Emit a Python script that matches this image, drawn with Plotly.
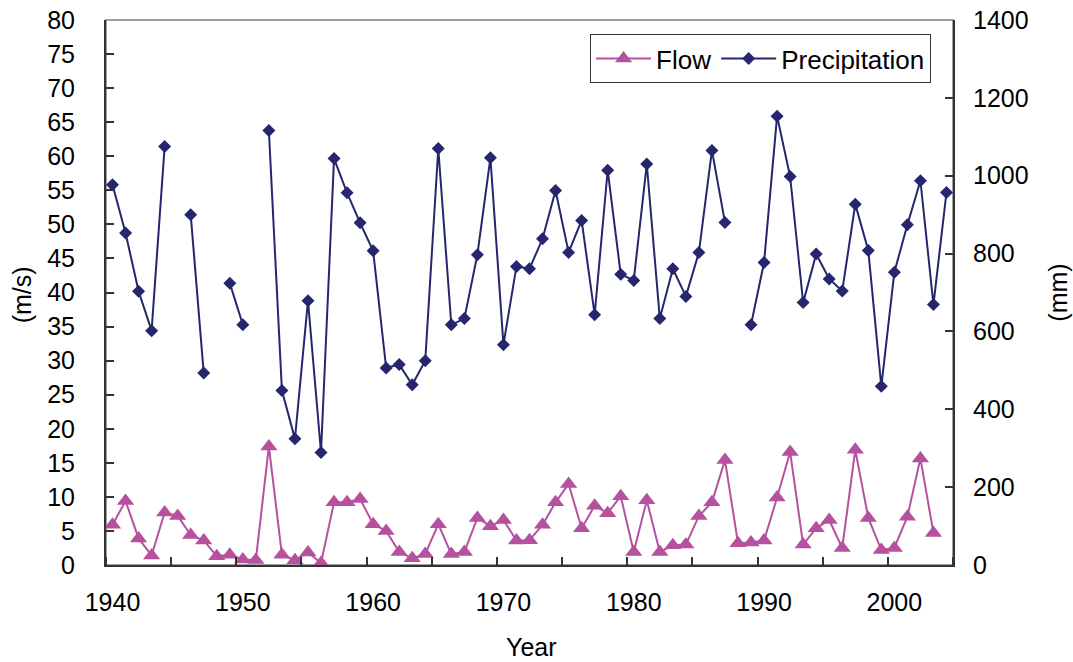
import plotly.graph_objects as go

years = list(range(1940, 2005))

flow = [5.9, 9.4, 3.9, 1.4, 7.7, 7.2, 4.4, 3.6, 1.3, 1.5,
        0.8, 0.75, 17.4, 1.5, 0.7, 1.85, 0.3, 9.2, 9.2, 9.7,
        6.0, 5.0, 1.9, 1.0, 1.6, 6.0, 1.6, 1.9, 6.9, 5.7,
        6.6, 3.6, 3.65, 5.9, 9.2, 11.9, 5.4, 8.7, 7.6, 10.1,
        1.9, 9.5, 1.9, 2.9, 3.0, 7.2, 9.2, 15.4, 3.2, 3.3,
        3.6, 9.9, 16.6, 3.0, 5.4, 6.6, 2.5, 16.9, 6.9, 2.2,
        2.5, 7.1, 15.65, 4.7, None]

precipitation = [977, 853, 703, 602, 1075, None, 900, 493, None, 724,
                 617, None, 1116, 448, 324, 679, 289, 1044, 956, 879,
                 807, 506, 515, 463, 525, 1070, 617, 633, 797, 1046,
                 566, 767, 761, 838, 962, 803, 885, 643, 1014, 747,
                 731, 1030, 633, 761, 690, 803, 1065, 880, None, 617,
                 777, 1153, 998, 674, 799, 735, 704, 927, 808, 459,
                 752, 874, 987, 669, 957]

x_labels = [1940, 1950, 1960, 1970, 1980, 1990, 2000]

FONT = "Arial, Liberation Sans, sans-serif"
FLOW_C = "#B6519F"
PREC_C = "#26266E"
AX_C = "#333333"
FS = 25

fig = go.Figure()
fig.add_trace(go.Scatter(
    x=years, y=flow, name="Flow", mode="lines+markers",
    line=dict(color=FLOW_C, width=2),
    marker=dict(symbol="triangle-up", size=15, color=FLOW_C),
    connectgaps=False, yaxis="y"))
fig.add_trace(go.Scatter(
    x=years, y=precipitation, name="Precipitation", mode="lines+markers",
    line=dict(color=PREC_C, width=2),
    marker=dict(symbol="diamond", size=10, color=PREC_C),
    connectgaps=False, yaxis="y2"))

fig.update_layout(
    width=1073, height=662,
    margin=dict(l=106, r=120, t=20, b=97, autoexpand=False),
    paper_bgcolor="white", plot_bgcolor="white",
    font=dict(family=FONT, size=FS, color="black"),
    showlegend=True,
    legend=dict(x=0.5715, y=0.974, xanchor="left", yanchor="top",
                orientation="h", bgcolor="white",
                bordercolor=AX_C, borderwidth=1,
                font=dict(family=FONT, size=26, color="black"),
                itemwidth=55),
    xaxis=dict(range=[1939.5, 2004.5], tickmode="array", tickvals=x_labels,
               ticktext=[str(v) for v in x_labels], ticks="", showgrid=False,
               zeroline=False, showline=True, linecolor=AX_C, linewidth=2,
               ticklabelstandoff=14, ticklabeloverflow="allow", automargin=False,
               minor=dict(ticks="inside", tick0=1939.5, dtick=5, ticklen=8,
                          tickcolor=AX_C, tickwidth=1.5, showgrid=False)),
    yaxis=dict(range=[0, 80], dtick=5, tick0=0, ticks="inside", ticklen=8,
               tickcolor=AX_C, tickwidth=1.5, showgrid=False, zeroline=False,
               showline=True, linecolor=AX_C, linewidth=2, automargin=False,
               ticklabelstandoff=24, ticklabeloverflow="allow"),
    yaxis2=dict(range=[0, 1400], dtick=200, tick0=0, ticks="inside", ticklen=8,
                tickcolor=AX_C, tickwidth=1.5, showgrid=False, zeroline=False,
                showline=True, linecolor=AX_C, linewidth=2, automargin=False,
                overlaying="y", side="right", ticklabelstandoff=13,
                ticklabeloverflow="allow"),
    shapes=[dict(type="rect", xref="paper", yref="paper", x0=0, x1=1, y0=0, y1=1,
                 line=dict(color="#808080", width=1.5), layer="below")],
    annotations=[
        dict(text="(m/s)", xref="paper", yref="paper", x=-0.099, y=0.495,
             textangle=-90, showarrow=False, xanchor="center", yanchor="middle",
             font=dict(family=FONT, size=FS)),
        dict(text="(mm)", xref="paper", yref="paper", x=1.123, y=0.5,
             textangle=-90, showarrow=False, xanchor="center", yanchor="middle",
             font=dict(family=FONT, size=FS)),
        dict(text="Year", xref="paper", yref="paper", x=0.502, y=-0.150,
             showarrow=False, xanchor="center", yanchor="middle",
             font=dict(family=FONT, size=FS)),
    ],
)

fig.write_html("out.html",
               config={"displayModeBar": False},
               post_script="document.body.style.margin='0';"
                           "document.body.style.overflow='hidden';")
